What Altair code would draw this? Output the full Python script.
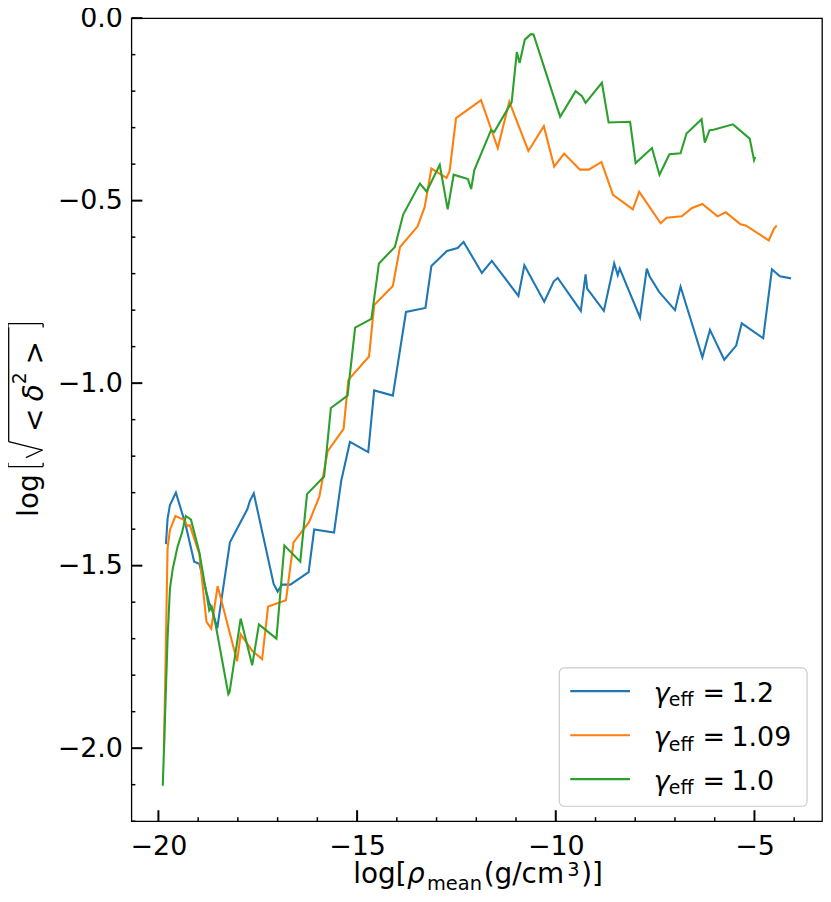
import altair as alt
import pandas as pd

# ---------------- data ----------------
blue_x = [-19.81, -19.77, -19.71, -19.56, -19.32, -19.10, -18.97, -18.72, -18.66, -18.52,
          -18.20, -17.76, -17.70, -17.60, -17.10, -17.00, -16.89, -16.68, -16.22, -16.08,
          -15.58, -15.40, -15.18, -14.72, -14.57, -14.10, -13.77, -13.28, -13.13, -12.74,
          -12.47, -12.32, -11.86, -11.61, -10.94, -10.79, -10.29, -10.05, -9.95, -9.37,
          -9.25, -9.21, -8.79, -8.53, -8.44, -8.39, -7.88, -7.71, -7.64, -7.40,
          -7.00, -6.86, -6.31, -6.12, -5.76, -5.46, -5.32, -4.78, -4.56, -4.36, -4.08]
blue_y = [-1.441, -1.372, -1.334, -1.300, -1.386, -1.489, -1.495, -1.604, -1.615, -1.672,
          -1.436, -1.345, -1.323, -1.302, -1.550, -1.571, -1.552, -1.552, -1.518, -1.401,
          -1.409, -1.268, -1.161, -1.189, -1.020, -1.034, -0.805, -0.794, -0.679, -0.638,
          -0.630, -0.613, -0.698, -0.665, -0.761, -0.677, -0.777, -0.721, -0.712, -0.802,
          -0.702, -0.741, -0.802, -0.672, -0.704, -0.686, -0.820, -0.686, -0.707, -0.750,
          -0.800, -0.736, -0.929, -0.854, -0.936, -0.897, -0.836, -0.877, -0.688, -0.707, -0.713]

orange_x = [-19.86, -19.81, -19.77, -19.71, -19.57, -19.43, -19.35, -19.27, -19.21, -18.97,
            -18.79, -18.67, -18.51, -18.02, -17.93, -17.64, -17.39, -17.24, -16.79, -16.60,
            -16.21, -15.95, -15.74, -15.34, -15.22, -14.70, -14.57, -14.10, -13.92, -13.48,
            -13.30, -13.13, -12.75, -12.67, -12.51, -11.88, -11.46, -11.17, -10.69, -10.30,
            -10.04, -9.79, -9.39, -9.17, -8.85, -8.56, -8.06, -7.90, -7.36, -7.21,
            -6.83, -6.57, -6.31, -5.93, -5.72, -5.35, -5.22, -4.64, -4.51, -4.44]
orange_y = [-2.005, -1.700, -1.454, -1.402, -1.364, -1.371, -1.374, -1.391, -1.389, -1.468,
            -1.654, -1.672, -1.556, -1.762, -1.688, -1.733, -1.756, -1.612, -1.595, -1.436,
            -1.381, -1.311, -1.186, -1.125, -0.991, -0.927, -0.786, -0.734, -0.627, -0.571,
            -0.518, -0.412, -0.438, -0.418, -0.274, -0.225, -0.356, -0.229, -0.364, -0.296,
            -0.407, -0.371, -0.415, -0.415, -0.394, -0.484, -0.524, -0.476, -0.562, -0.547,
            -0.543, -0.520, -0.509, -0.543, -0.532, -0.565, -0.568, -0.609, -0.577, -0.568]

green_x = [-19.89, -19.77, -19.71, -19.64, -19.52, -19.41, -19.31, -19.18, -18.97, -18.72,
           -18.66, -18.56, -18.24, -18.21, -17.93, -17.64, -17.47, -17.03, -16.83, -16.43,
           -16.26, -15.83, -15.66, -15.24, -15.05, -14.64, -14.45, -14.05, -13.84, -13.42,
           -13.25, -12.92, -12.72, -12.57, -12.21, -12.13, -12.05, -11.63, -11.55, -11.11,
           -10.98, -10.91, -10.78, -10.63, -10.56, -9.89, -9.50, -9.34, -9.25, -8.84,
           -8.67, -8.13, -7.99, -7.58, -7.39, -7.14, -6.86, -6.71, -6.33, -6.25,
           -6.13, -6.03, -5.54, -5.12, -5.01, -4.98]
green_y = [-2.103, -1.700, -1.563, -1.509, -1.449, -1.411, -1.364, -1.374, -1.463, -1.623,
           -1.613, -1.662, -1.852, -1.847, -1.645, -1.773, -1.661, -1.700, -1.445, -1.489,
           -1.304, -1.256, -1.068, -1.034, -0.848, -0.824, -0.672, -0.627, -0.538, -0.453,
           -0.475, -0.402, -0.524, -0.429, -0.441, -0.468, -0.416, -0.307, -0.312, -0.230,
           -0.093, -0.123, -0.059, -0.044, -0.045, -0.270, -0.200, -0.214, -0.232, -0.177,
           -0.286, -0.284, -0.397, -0.356, -0.429, -0.373, -0.370, -0.316, -0.277, -0.341,
           -0.307, -0.306, -0.291, -0.330, -0.389, -0.380]

series_values = ["1.2", "1.09", "1.0"]
series_colors = ["#1f77b4", "#ff7f0e", "#2ca02c"]

x_major = [-20, -15, -10, -5]
x_minor = [-19, -18, -17, -16, -14, -13, -12, -11, -9, -8, -7, -6, -4]
y_major = [-2.0, -1.5, -1.0, -0.5, 0.0]
y_minor = [-2.2, -2.1, -1.9, -1.8, -1.7, -1.6, -1.4, -1.3, -1.2, -1.1,
           -0.9, -0.8, -0.7, -0.6, -0.4, -0.3, -0.2, -0.1]

# ---------------- layout ----------------
W, H = 694, 807
FONT = "DejaVu Sans"
xscale = alt.Scale(domain=[-20.68, -3.3], nice=False, zero=False)
yscale = alt.Scale(domain=[-2.2, 0.0], nice=False, zero=False)
one = pd.DataFrame({"k": [0]})

XAX = alt.Axis(values=x_major, format="d", labelFontSize=27, labelFont=FONT,
               labelColor="black", ticks=False, domain=False, grid=False,
               labelPadding=12, labelFlush=False, title=None)
YAX = alt.Axis(values=y_major, format=".1f", labelFontSize=27, labelFont=FONT,
               labelColor="black", ticks=False, domain=False, grid=False,
               labelPadding=9, labelFlush=False, title=None)


def line_layer(xs, ys, color):
    df = pd.DataFrame({"x": xs, "y": ys, "i": list(range(len(xs)))})
    return alt.Chart(df).mark_line(color=color, strokeWidth=2.1).encode(
        x=alt.X("x:Q", scale=xscale, axis=XAX),
        y=alt.Y("y:Q", scale=yscale, axis=YAX),
        order=alt.Order("i:Q"),
    )


def xticks(vals, length, sw):
    return alt.Chart(pd.DataFrame({"v": vals})).mark_rule(color="black", strokeWidth=sw).encode(
        x=alt.X("v:Q", scale=xscale, axis=XAX),
        y=alt.value(H), y2=alt.value(H - length))


def yticks(vals, length, sw):
    return alt.Chart(pd.DataFrame({"v": vals})).mark_rule(color="black", strokeWidth=sw).encode(
        y=alt.Y("v:Q", scale=yscale, axis=YAX),
        x=alt.value(0), x2=alt.value(length))


def txt(s, x, y, size=28, style="normal", angle=0, align="left", baseline="alphabetic"):
    return alt.Chart(one).mark_text(text=s, font=FONT, fontSize=size, fontStyle=style,
                                    angle=angle, align=align, baseline=baseline,
                                    color="black").encode(x=alt.value(x), y=alt.value(y))


def seg(x1, y1, x2, y2, color="black", sw=1.3):
    return alt.Chart(one).mark_rule(color=color, strokeWidth=sw).encode(
        x=alt.value(x1), y=alt.value(y1), x2=alt.value(x2), y2=alt.value(y2))


layers = [
    line_layer(blue_x, blue_y, series_colors[0]),
    line_layer(orange_x, orange_y, series_colors[1]),
    line_layer(green_x, green_y, series_colors[2]),
    xticks(x_minor, 4, 1.5), xticks(x_major, 11, 2),
    yticks(y_minor, 4, 1.5), yticks(y_major, 11, 2),
]

# legend box
layers.append(alt.Chart(one).mark_rect(fill="white", fillOpacity=0.8, stroke="#cccccc",
                                       strokeWidth=1.2, cornerRadius=5).encode(
    x=alt.value(430), x2=alt.value(679), y=alt.value(653), y2=alt.value(792)))
row_base = [687, 731.5, 775.5]
row_line = [676.3, 720.7, 764.7]
for val, col, yb, yl in zip(series_values, series_colors, row_base, row_line):
    layers.append(seg(441, yl, 501, yl, color=col, sw=2.1))
    layers.append(txt("γ", 525, yb, size=27, style="italic"))
    layers.append(txt("eff", 540, yb + 4.5, size=19))
    layers.append(txt("=", 574, yb, size=27))
    layers.append(txt(val, 603, yb, size=27))

# x axis title: log[ρ_mean(g/cm^3)]
TY = 869
layers += [
    txt("log[", 223, TY),
    txt("ρ", 277, TY, style="italic"),
    txt("mean", 297, TY + 7, size=19.5),
    txt("(g/cm", 354, TY),
    txt("3", 438, TY - 7, size=19.5),
    txt(")]", 452, TY),
]

# y axis title: log[ sqrt(<δ^2>) ]
layers += [
    txt("log", -94, 501, angle=270),
    seg(-124, 450.7, -88.7, 450.7), seg(-124, 450.7, -124, 446.7), seg(-88.7, 450.7, -88.7, 446.7),
    seg(-124, 307, -88.7, 307), seg(-124, 307, -124, 311), seg(-88.7, 307, -88.7, 311),
    seg(-123.3, 425.7, -123.3, 310.7),
    seg(-123.3, 425.7, -89.3, 434),
    seg(-89.3, 434, -106, 441.7),
    txt("<", -88, 416, angle=270),
    txt("δ", -89, 385, style="italic", angle=270),
    txt("2", -106, 368, size=19, angle=270),
    txt(">", -88, 348, angle=270),
]

chart = alt.layer(*layers).properties(
    width=W, height=H,
    padding={"left": 124, "top": 8, "right": 1, "bottom": 71},
    autosize=alt.AutoSizeParams(type="none"),
    background="white",
).configure_view(stroke="black", strokeWidth=1.3)

chart.save("out.html", embed_options={"renderer": "svg", "actions": False})
